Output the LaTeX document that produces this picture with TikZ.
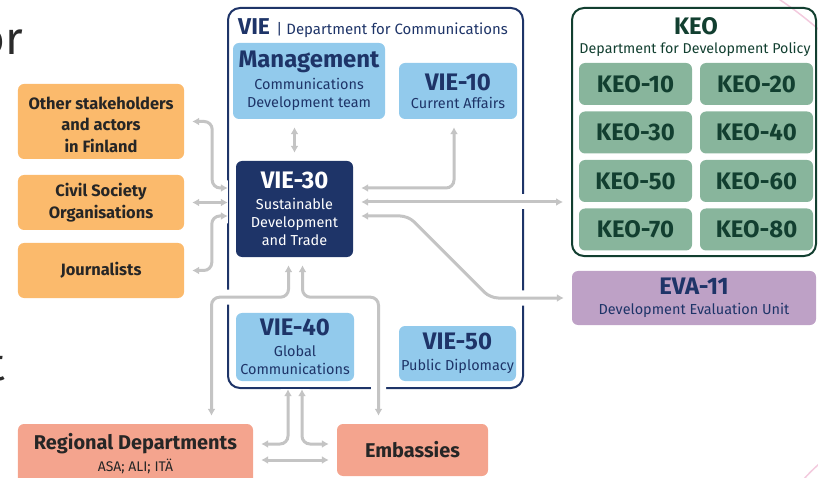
\documentclass[tikz,border=0pt]{standalone}
\usepackage{fontspec}
\setmainfont{Fira Sans}
\usetikzlibrary{arrows.meta}

\definecolor{vienavy}{HTML}{1E3468}
\definecolor{vieblue}{HTML}{92CAEC}
\definecolor{keogreen}{HTML}{123F30}
\definecolor{keofill}{HTML}{88B59C}
\definecolor{stakeorange}{HTML}{FBBA6C}
\definecolor{evapurple}{HTML}{BEA1C6}
\definecolor{regsalmon}{HTML}{F4A48E}
\definecolor{linkgray}{HTML}{C4C4C4}
\definecolor{decopink}{HTML}{F3CADE}
\definecolor{titlegray}{HTML}{2B2B2B}

\newcommand{\boxhead}[1]{{\fontsize{24}{26}\selectfont\bfseries #1}}

\begin{document}
\begin{tikzpicture}[x=1bp, y=-1bp, >={Latex[length=7bp,width=8bp]},
  unitbox/.style={rounded corners=6bp, inner sep=0pt, align=center, font=\fontsize{14.5}{18}\selectfont},
  viebox/.style={unitbox, fill=vieblue, text=vienavy},
  keobox/.style={unitbox, fill=keofill, text=keogreen, minimum width=113bp, minimum height=42bp, font=\fontsize{24}{26}\selectfont\bfseries},
  actorbox/.style={unitbox, fill=stakeorange, text=black!85, minimum width=166bp, font=\fontsize{16.5}{21.5}\selectfont\bfseries},
  regionbox/.style={unitbox, fill=regsalmon, text=black!85, font=\fontsize{14}{20}\selectfont},
  deptframe/.style={draw, line width=2bp, rounded corners=12bp, inner sep=0pt},
  link/.style={draw=linkgray, line width=3bp, <->, rounded corners=8bp, shorten <=8bp, shorten >=8bp,
    preaction={draw=white, line width=15bp, -}}]

  \useasboundingbox (0,0) rectangle (818,478);
  \clip (0,0) rectangle (818,478);

  % Background swirls and cut-off slide text
  \draw[decopink, line width=1.5bp] (768,-8) .. controls (790,6) and (806,18) .. (826,36);
  \draw[decopink, line width=1.5bp] (798,486) .. controls (806,476) and (814,468) .. (826,458);
  \node[anchor=base east, inner sep=0pt, text=titlegray, font=\fontsize{46}{46}\selectfont] (titleA) at (23,55) {or};
  \node[anchor=base east, inner sep=0pt, text=titlegray, font=\fontsize{46}{46}\selectfont] (titleB) at (5,380) {t};

  % Department frames
  \node[deptframe, draw=vienavy, minimum width=295bp, minimum height=380bp] (vie) at (375.5,198) {};
  \node[deptframe, draw=keogreen, minimum width=244bp, minimum height=248bp] (keo) at (694,132) {};
  \node[anchor=base west, inner sep=0pt, text=vienavy, font=\fontsize{15}{18}\selectfont] (viehead) at (238,35)
    {{\fontsize{23}{23}\selectfont\bfseries VIE}\, | Department for Communications};
  \node[anchor=base, inner sep=0pt, text=keogreen, font=\fontsize{24}{26}\selectfont\bfseries] (keohead) at (696,35) {KEO};
  \node[anchor=base, inner sep=0pt, text=keogreen, font=\fontsize{14.3}{18}\selectfont] (keosub) at (695,54) {Department for Development Policy};

  % VIE units
  \node[viebox, minimum width=152bp, minimum height=76bp] (mgmt) at (309,81) {\boxhead{Management}\\[4bp] Communications\\ Development team};
  \node[viebox, minimum width=118bp, minimum height=56bp] (vie10) at (458,91) {\boxhead{VIE-10}\\ Current Affairs};
  \node[unitbox, fill=vienavy, text=white, minimum width=117bp, minimum height=96bp] (vie30) at (294.5,209) {\boxhead{VIE-30}\\[3bp] Sustainable\\ Development\\ and Trade};
  \node[viebox, minimum width=118bp, minimum height=68bp] (vie40) at (295,347) {\boxhead{VIE-40}\\[3bp] Global\\ Communications};
  \node[viebox, minimum width=117bp, minimum height=55bp] (vie50) at (457.5,353.5) {\boxhead{VIE-50}\\[3bp] Public Diplomacy};

  % KEO units
  \node[keobox] (keo10) at (635.5,84) {KEO-10};
  \node[keobox] (keo20) at (756.5,84) {KEO-20};
  \node[keobox] (keo30) at (635.5,132.5) {KEO-30};
  \node[keobox] (keo40) at (756.5,132.5) {KEO-40};
  \node[keobox] (keo50) at (635.5,181) {KEO-50};
  \node[keobox] (keo60) at (756.5,181) {KEO-60};
  \node[keobox] (keo70) at (635.5,229.5) {KEO-70};
  \node[keobox] (keo80) at (756.5,229.5) {KEO-80};

  \node[unitbox, fill=evapurple, text=vienavy, minimum width=244bp, minimum height=54bp] (eva11) at (694,298) {\boxhead{EVA-11}\\[2bp] Development Evaluation Unit};

  % Actors around the department
  \node[actorbox, minimum height=75bp] (others) at (101,121.5) {\rule{0pt}{19bp}Other stakeholders\\ and actors\\ in Finland};
  \node[actorbox, minimum height=55bp] (cso) at (101,202.5) {Civil Society\\ Organisations};
  \node[actorbox, minimum height=55bp] (journalists) at (101,270.5) {Journalists};
  \node[regionbox, minimum width=235bp, minimum height=60bp] (regional) at (135.5,454) {{\fontsize{20}{22}\selectfont\bfseries Regional Departments}\\[2bp] ASA; ALI; ITÄ};
  \node[regionbox, minimum width=151bp, minimum height=52bp, font=\fontsize{20}{22}\selectfont\bfseries] (embassies) at (412.5,450) {Embassies};

  % Connectors
  \draw[link] (vie30.north |- mgmt.south) -- (vie30.north);
  \draw[link] ([yshift=21bp]vie30.east) -| ([xshift=-4bp]vie10.south);
  \draw[link] ([yshift=7bp]vie30.east) -- ([yshift=7bp]vie30.east -| keo.west);
  \draw[link] ([yshift=-7bp]vie30.east) -- ++(55,0) -- ++(82,82) -- (eva11.west);
  \draw[link] (others.east) -- ++(28,0) |- ([yshift=21bp]vie30.west);
  \draw[link] (cso.east) -- (cso.east -| vie30.west);
  \draw[link] ([yshift=-7bp]vie30.west) -- ++(-24,0) |- (journalists.east);
  \draw[link] ([xshift=-6bp]vie30.south) -- ++(0,40) -| ([xshift=76bp]regional.north);
  \draw[link] ([xshift=8bp]vie30.south) -- ++(0,40) -| ([xshift=-34bp]embassies.north);
  \draw[link] ([yshift=10bp]regional.east) -| ([xshift=-7bp]vie40.south);
  \draw[link] ([xshift=7bp]vie40.south) |- ([yshift=6bp]embassies.west);
  \draw[link] ([yshift=-6bp]regional.east) -- ([yshift=-6bp]regional.east -| embassies.west);

\end{tikzpicture}
\end{document}
